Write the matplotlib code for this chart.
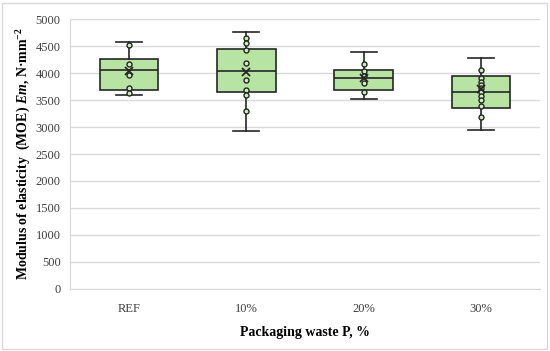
import matplotlib
matplotlib.use("Agg")
import matplotlib.pyplot as plt
from matplotlib.patches import Rectangle
import numpy as np

plt.rcParams['font.family'] = ['Liberation Serif', 'DejaVu Serif']
plt.rcParams['mathtext.fontset'] = 'custom'
plt.rcParams['mathtext.rm'] = 'Liberation Serif:bold'
plt.rcParams['mathtext.it'] = 'Liberation Serif:bold:italic'

categories = ['REF', '10%', '20%', '30%']

# box statistics
whisker_low = [3590, 2935, 3515, 2945]
q1 = [3695, 3655, 3695, 3350]
median = [4065, 4040, 3905, 3645]
q3 = [4255, 4455, 4065, 3940]
whisker_high = [4580, 4760, 4400, 4275]
mean = [4045, 4025, 3905, 3700]

# inner points
points = [
    [4517, 4165, 3967, 3719, 3626],
    [4647, 4554, 4425, 4183, 3880, 3688, 3589, 3298],
    [4165, 4041, 3942, 3824, 3645],
    [4059, 3917, 3843, 3781, 3719, 3657, 3583, 3502, 3397, 3193],
]

stats = []
for i, name in enumerate(categories):
    stats.append(dict(label=name, whislo=whisker_low[i], q1=q1[i], med=median[i],
                      q3=q3[i], whishi=whisker_high[i], mean=mean[i], fliers=[]))

fig = plt.figure(figsize=(5.5, 3.51), dpi=100)
ax = fig.add_axes([0.128, 0.1775, 0.853, 0.7675])

edge = '#262626'
ax.bxp(stats, positions=range(len(categories)), widths=0.5, patch_artist=True,
       showmeans=False, showfliers=False,
       boxprops=dict(facecolor='#b7e4a3', edgecolor=edge, linewidth=1.2),
       medianprops=dict(color=edge, linewidth=1.2),
       whiskerprops=dict(color=edge, linewidth=1.2),
       capprops=dict(color=edge, linewidth=1.2),
       capwidths=0.22, zorder=3)

for i, pts in enumerate(points):
    ax.plot([i] * len(pts), pts, 'o', ms=3.6, mfc='#c8f0b8', mec=edge, mew=1.0,
            linestyle='none', zorder=4)
ax.plot(range(len(categories)), mean, 'x', color=edge, ms=6, mew=1.3,
        linestyle='none', zorder=5)

ax.set_xlim(-0.5, 3.5)
ax.set_ylim(0, 5000)
ax.set_yticks(np.arange(0, 5001, 500))
ax.set_xticks(range(len(categories)))
ax.set_xticklabels(categories)
ax.yaxis.grid(True, color='#d9d9d9', linewidth=1.0)
ax.set_axisbelow(True)
for s in ['top', 'right']:
    ax.spines[s].set_visible(False)
ax.spines['left'].set_color('#d9d9d9')
ax.spines['bottom'].set_color('#d9d9d9')
ax.tick_params(axis='both', length=0, labelsize=9, colors='#404040', pad=7)
ax.tick_params(axis='x', pad=10)

ax.set_xlabel('Packaging waste P, %', fontsize=10, fontweight='bold', labelpad=8)
ax.set_ylabel('Modulus of elasticity  (MOE) $Em$, N·mm$^{\\mathregular{-2}}$',
              fontsize=10, fontweight='bold')
ax.yaxis.set_label_coords(-0.080, 0.5)

fig.patches.append(Rectangle((0.004, 0.006), 0.990, 0.985, transform=fig.transFigure,
                             fill=False, edgecolor='#d9d9d9', linewidth=1.0))

fig.savefig('out.png', dpi=100)
